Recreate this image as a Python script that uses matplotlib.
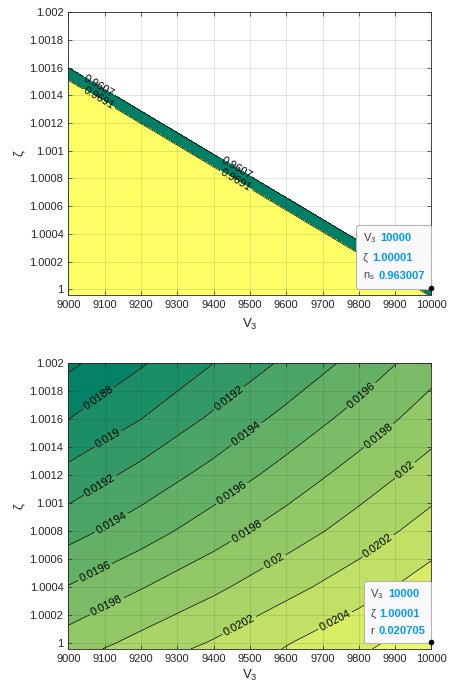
import numpy as np
import matplotlib
matplotlib.use('Agg')
import matplotlib.pyplot as plt
from matplotlib.offsetbox import TextArea, HPacker, VPacker, AnnotationBbox

plt.rcParams['font.family'] = ['Liberation Sans', 'DejaVu Sans']
plt.rcParams['mathtext.default'] = 'regular'

# ---- data ----
# top panel: n_s on a coarse (V3, zeta) grid
v3_top = [9000, 9500, 10000]
zeta_top = [0.99996, 1.001, 1.002]
ns_grid = [[1.1132, 1.0405, 0.9677],
           [1.0165, 0.9438, 0.8710],
           [0.9235, 0.8508, 0.7780]]
ns_levels = [0.9607, 0.9691]

# bottom panel: r on a (V3, zeta) grid
v3_bot = [9000, 9200, 9400, 9600, 9800, 10000]
zeta_bot = [0.99996, 1.0, 1.0004, 1.0008, 1.0012, 1.0016, 1.002]
r_grid = [[0.01992, 0.02009, 0.02025, 0.02041, 0.02057, 0.02073],
          [0.01989, 0.02006, 0.02022, 0.02039, 0.02055, 0.02071],
          [0.01961, 0.01979, 0.01996, 0.02014, 0.02031, 0.02050],
          [0.01933, 0.01951, 0.01971, 0.01990, 0.02009, 0.02029],
          [0.01906, 0.01927, 0.01947, 0.01968, 0.01989, 0.02009],
          [0.01880, 0.01900, 0.01924, 0.01946, 0.01968, 0.01990],
          [0.01856, 0.01878, 0.01900, 0.01924, 0.01947, 0.01972]]
r_levels = [0.0186, 0.0188, 0.0190, 0.0192, 0.0194, 0.0196,
            0.0198, 0.0200, 0.0202, 0.0204, 0.0206]

x_ticks = [9000, 9100, 9200, 9300, 9400, 9500, 9600, 9700, 9800, 9900, 10000]
y_ticks = [1.0, 1.0002, 1.0004, 1.0006, 1.0008, 1.001,
           1.0012, 1.0014, 1.0016, 1.0018, 1.002]
y_ticklabels = ['1', '1.0002', '1.0004', '1.0006', '1.0008', '1.001',
                '1.0012', '1.0014', '1.0016', '1.0018', '1.002']

tip_v3 = 10000
tip_zeta = 1.00001
tip_ns = 0.963007
tip_r = 0.020705

# label spots (where MATLAB put the inline labels)
ns_label_pos = [(9085, 1.00147), (9463, 1.00088), (9085, 1.00138), (9463, 1.00079)]
r_label_pos = [(9087, 1.00174), (9115, 1.00144), (9087, 1.00113), (9445, 1.00174),
               (9123, 1.00084), (9495, 1.00148), (9079, 1.00048), (9453, 1.00106),
               (9811, 1.00176), (9107, 1.00026), (9500, 1.00077), (9849, 1.0015),
               (9574, 1.00056), (9932, 1.00122), (9473, 1.00012), (9858, 1.00068),
               (9739, 1.00014)]

txt = (0.15, 0.15, 0.15)
summer = plt.get_cmap('summer')

fig = plt.figure(figsize=(4.49, 6.84), dpi=100)
ax1 = fig.add_axes([0.1521, 0.5690, 0.8089, 0.4130])
ax2 = fig.add_axes([0.1521, 0.0513, 0.8089, 0.4175])


def style(ax, xpad):
    ax.set_xlim(9000, 10000)
    ax.set_ylim(0.99996, 1.002)
    ax.set_xticks(x_ticks)
    ax.set_yticks(y_ticks)
    ax.set_yticklabels(y_ticklabels)
    ax.tick_params(direction='in', length=3, width=0.5, top=True, right=True,
                   labelsize=8, colors=txt, pad=3.5)
    for s in ax.spines.values():
        s.set_color(txt)
        s.set_linewidth(0.6)
    ax.set_axisbelow(False)
    ax.grid(True, color=txt, alpha=0.18, lw=0.5)
    ax.set_xlabel('$V_3$', fontsize=9.5, color=txt, labelpad=xpad)
    ax.set_ylabel('ζ', fontsize=9.5, color=txt, labelpad=3)


def datatip(ax, x, y, rows):
    lines = []
    for name, val in rows:
        a = TextArea(name, textprops=dict(color=(0.25, 0.25, 0.25), size=8))
        b = TextArea(val, textprops=dict(color=(0.0, 0.6, 1.0), size=8, weight='bold'))
        lines.append(HPacker(children=[a, b], sep=3, align='baseline'))
    box = VPacker(children=lines, sep=5.5, align='left')
    ab = AnnotationBbox(box, (x, y), xybox=(-4.5, 4.0), xycoords='data',
                        boxcoords='offset points', box_alignment=(1, 0),
                        pad=0.45, annotation_clip=False,
                        bboxprops=dict(boxstyle='round,pad=0.45,rounding_size=0.15',
                                       fc='#FAFAFD', ec='#B4B4B4', lw=0.8))
    ab.set_zorder(10)
    ax.add_artist(ab)
    ax.plot(x, y, 'o', color='k', ms=3, zorder=11, clip_on=False)


# top panel
ns = np.array(ns_grid)
ax1.contourf(v3_top, zeta_top, ns, levels=ns_levels + [ns.max()],
             colors=[summer(0.0), summer(1.0)])
cs1 = ax1.contour(v3_top, zeta_top, ns, levels=ns_levels, colors='k', linewidths=0.5)
ax1.clabel(cs1, fmt='%g', fontsize=8, colors='k', inline=True,
           inline_spacing=2, manual=ns_label_pos)
style(ax1, 5.5)
datatip(ax1, tip_v3, tip_zeta,
        [('$V_3$', str(tip_v3)), ('ζ', '%g' % tip_zeta), ('$n_s$', '%g' % tip_ns)])

# bottom panel
r = np.array(r_grid)
rmin, rmax = r.min(), r.max()
bounds = [rmin] + r_levels + [rmax]
fill_cols = [summer((b - rmin) / (rmax - rmin)) for b in bounds[:-1]]
ax2.contourf(v3_bot, zeta_bot, r, levels=bounds, colors=fill_cols)
cs2 = ax2.contour(v3_bot, zeta_bot, r, levels=r_levels, colors='k', linewidths=0.5)
ax2.clabel(cs2, fmt='%g', fontsize=8, colors='k', inline=True,
           inline_spacing=2, manual=r_label_pos)
style(ax2, 3.0)
datatip(ax2, tip_v3, tip_zeta,
        [('$V_3$', str(tip_v3)), ('ζ', '%g' % tip_zeta), ('r', '%g' % tip_r)])

fig.savefig('out.png', dpi=100)
